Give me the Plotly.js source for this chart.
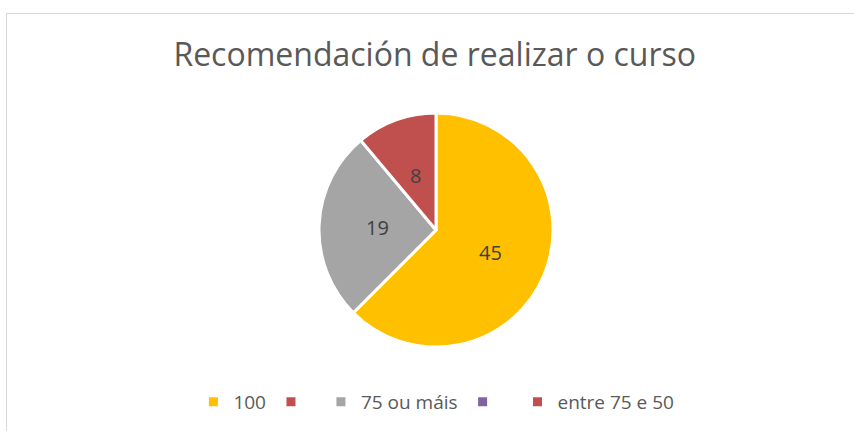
<!DOCTYPE html>
<html>
<head>
<meta charset="utf-8">
<script src="https://cdn.plot.ly/plotly-3.0.1.min.js"></script>
<style>
html,body{margin:0;padding:0;background:#fff;}
#wrap{position:relative;width:854px;height:431px;overflow:hidden;}
#chart{position:absolute;left:0;top:0;width:854px;height:431px;}
#frame{position:absolute;left:6px;top:13px;width:900px;height:500px;border:1px solid #d9d9d9;pointer-events:none;}
</style>
</head>
<body>
<div id="wrap"><div id="chart"></div><div id="frame"></div></div>
<script>
const chartTitle = 'Recomendación de realizar o curso';
const categories = ['100', ' ', '75 ou máis', '  ', 'entre 75 e 50'];
const values = [45, 0, 19, 0, 8];
const colors = ['#FFC000', '#C0504D', '#A5A5A5', '#8064A2', '#C0504D'];

const FONT = 'Open Sans, sans-serif';
const W = 854, H = 431;
const CX = 436, CY = 201, R = 117; // pie centre (px from left / bottom) and radius
const domain = {x: [(CX-R)/W, (CX+R)/W], y: [(CY-R)/H, (CY+R)/H]};

const trace = {
  type: 'pie',
  labels: categories,
  values: values,
  textinfo: 'none',
  sort: false,
  direction: 'clockwise',
  rotation: 0,
  marker: {colors: colors, line: {color: '#ffffff', width: 3}},
  domain: domain,
  hoverinfo: 'label+value'
};

// data labels placed at half radius on each slice's mid-angle (as in the original)
const total = values.reduce((a, b) => a + b, 0);
const annotations = [];
let cum = 0;
values.forEach(v => {
  if (v > 0) {
    const a = (cum + v / 2) / total * 2 * Math.PI;
    annotations.push({
      xref: 'paper', yref: 'paper',
      x: (CX + 0.5 * R * Math.sin(a)) / W,
      y: (CY + 0.5 * R * Math.cos(a)) / H,
      text: String(v), showarrow: false,
      xanchor: 'center', yanchor: 'middle',
      font: {family: FONT, size: 20, color: '#404040'}
    });
  }
  cum += v;
});

const layout = {
  width: W, height: H,
  margin: {l: 0, r: 0, t: 0, b: 0},
  paper_bgcolor: '#ffffff',
  title: {text: chartTitle, font: {family: FONT, size: 32, color: '#595959'}, x: 0.509, xanchor: 'center', y: 1 - 55/431, yanchor: 'middle', yref: 'container'},
  showlegend: true,
  legend: {orientation: 'h', x: 0.511, xanchor: 'center', y: (431-402)/431, yanchor: 'middle', font: {family: FONT, size: 19, color: '#595959'}, itemwidth: 30, traceorder: 'normal'},
  annotations: annotations
};
Plotly.newPlot('chart', [trace], layout, {displayModeBar: false, staticPlot: true});
</script>
</body>
</html>
